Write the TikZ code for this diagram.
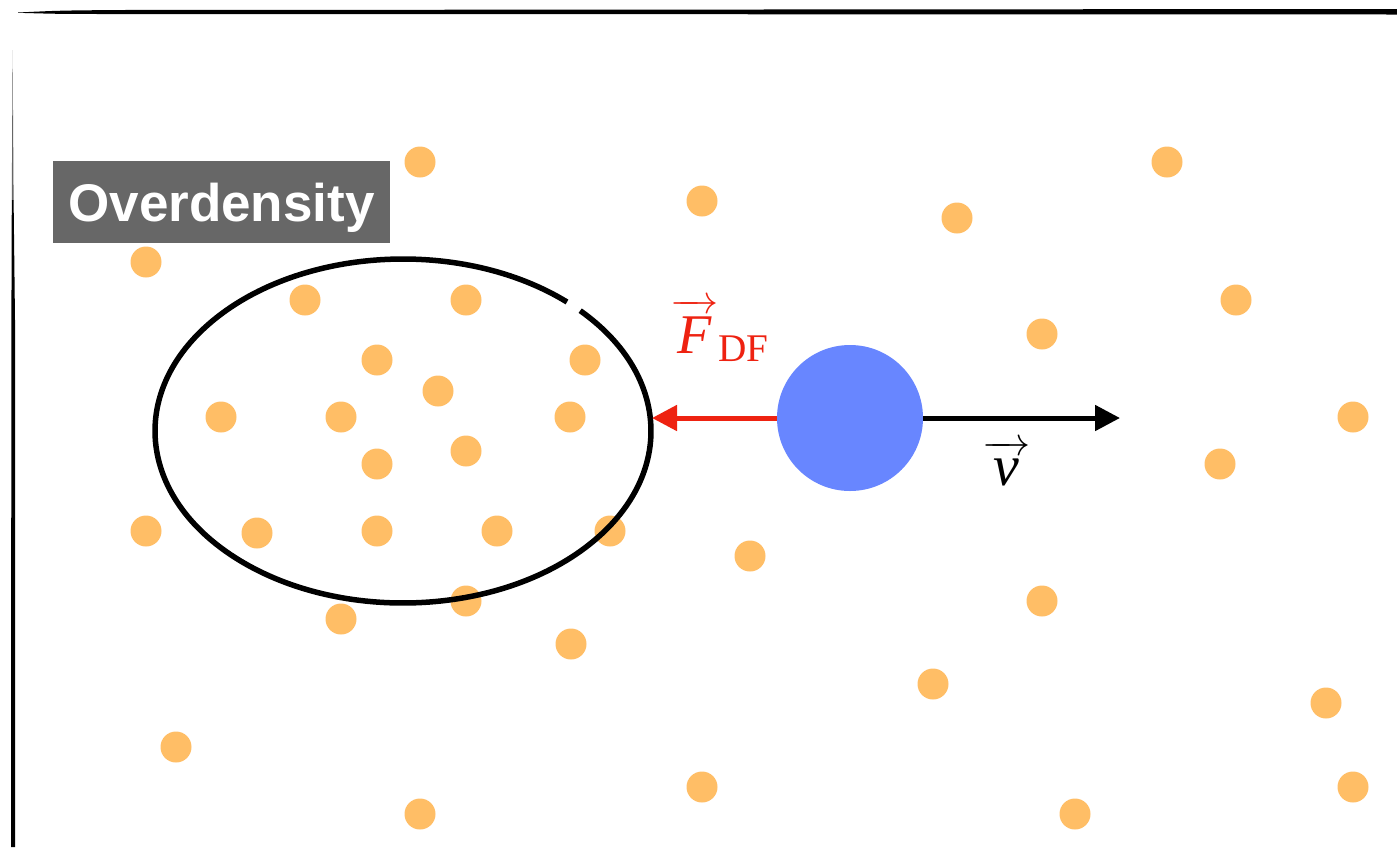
\RequirePackage{fix-cm}
\documentclass[tikz,border=0pt]{standalone}
\usepackage{amsmath}
\usepackage{fontspec}
\setmainfont{Liberation Serif}
\newfontfamily\boxfont{Liberation Sans}
\usetikzlibrary{arrows.meta}
\definecolor{dotc}{HTML}{FFBE66}
\definecolor{bodyc}{HTML}{6886FF}
\definecolor{dfred}{HTML}{EE2211}
\definecolor{boxgray}{HTML}{676767}
\newcommand\myvec[1]{{\overset{\text{\fontsize{40}{40}\selectfont\raisebox{-3pt}{\hbox to 48pt{\rightarrowfill}}}}{\text{\itshape #1}}}}
\begin{document}
\begin{tikzpicture}[x=1pt,y=-1pt,
  dotstyle/.style={fill=dotc},
  vecarrow/.style={line width=5pt,-{Triangle[length=25pt,width=25pt]}}]
\useasboundingbox (0,0) rectangle (1397,847);
\fill[white] (0,0) rectangle (1397,847);
% hand-drawn frame strokes
\fill[black] (18,12.5) .. controls (60,10.5) .. (120,10) -- (1397,9) -- (1397,14.5) -- (120,14) .. controls (60,14) .. (18,12.8) -- cycle;
\fill[black!60] (12.6,50) -- (13.6,200) -- (11.8,200) -- cycle;
\fill[black] (13.6,200) -- (15,320) -- (15,847) -- (11,847) -- (11.4,320) -- (11.8,200) -- cycle;
% particles
\foreach \x/\y in {420/162, 702/201, 957/218, 1167/162, 146/262, 305/300, 466/300, 1236/300,
  1042/334, 377/360, 585/360, 438/391, 221/417, 341/417, 570/417, 1353/417, 377/464, 466/451,
  1220/464, 146/531, 257/533, 377/531, 497/531, 610/531, 750/556, 466/601, 1042/601, 341/619,
  571/644, 933/684, 1326/703, 176/747, 702/787, 1353/787, 420/814, 1075/814}
  \fill[dotstyle] (\x,\y) circle[radius=15.5pt];
% overdensity ellipse (with small gap at upper right)
\draw[line width=5.5pt] (403,431) ++(48.6:248pt and 172pt) arc[start angle=48.6, end angle=404.4, x radius=248pt, y radius=172pt];
% label box
\node[fill=boxgray, minimum width=337pt, minimum height=82pt, inner sep=0, text=white,
  text height=38pt, text depth=0pt,
  font=\boxfont\bfseries\fontsize{53}{60}\selectfont] (od) at (221.5,202) {Overdensity};
% moving body
\node[circle, fill=bodyc, minimum size=146pt, inner sep=0] (body) at (850,418) {};
\coordinate (fdtip) at (652,418);
\coordinate (vtip) at (1120,418);
\draw[dfred, vecarrow] (body.west) -- (fdtip);
\draw[black, vecarrow] (body.east) -- (vtip);
\node[text=dfred, inner sep=0, anchor=base west, font=\fontsize{56}{60}\selectfont] (fdf) at (670,353) {$\myvec{F}_{\text{DF}}$};
\node[inner sep=0, anchor=base, font=\fontsize{58}{62}\selectfont] (vel) at (1006,485) {$\myvec{v}$};
\end{tikzpicture}
\end{document}
